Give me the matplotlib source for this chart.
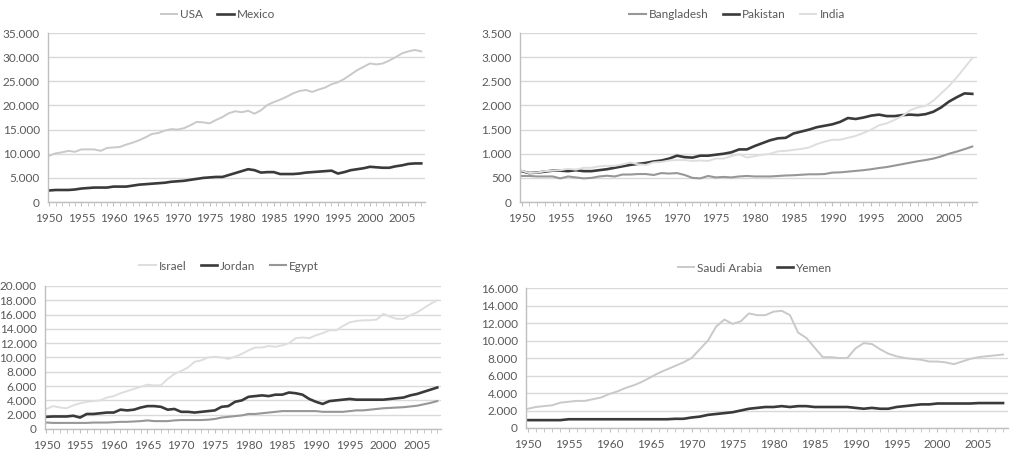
import matplotlib
matplotlib.use("Agg")
import matplotlib.pyplot as plt
from matplotlib.ticker import FuncFormatter, MultipleLocator

years = list(range(1950, 2009))

usa = [9.6, 10.1, 10.3, 10.6, 10.4, 10.9, 10.9, 10.9, 10.6, 11.2, 11.3, 11.4, 11.9, 12.3, 12.8,
       13.4, 14.1, 14.3, 14.8, 15.1, 15.0, 15.3, 15.9, 16.6, 16.5, 16.3, 17.0, 17.6, 18.4, 18.8,
       18.6, 18.9, 18.3, 19.0, 20.1, 20.7, 21.2, 21.8, 22.5, 23.0, 23.2, 22.8, 23.3, 23.7, 24.4,
       24.8, 25.5, 26.4, 27.3, 28.0, 28.7, 28.5, 28.7, 29.3, 30.0, 30.8, 31.2, 31.5, 31.2]
mexico = [2.4, 2.5, 2.5, 2.5, 2.6, 2.8, 2.9, 3.0, 3.0, 3.0, 3.2, 3.2, 3.2, 3.4, 3.6,
          3.7, 3.8, 3.9, 4.0, 4.2, 4.3, 4.4, 4.6, 4.8, 5.0, 5.1, 5.2, 5.2, 5.6, 6.0,
          6.4, 6.8, 6.6, 6.1, 6.2, 6.2, 5.8, 5.8, 5.8, 5.9, 6.1, 6.2, 6.3, 6.4, 6.5,
          5.9, 6.2, 6.6, 6.8, 7.0, 7.3, 7.2, 7.1, 7.1, 7.4, 7.6, 7.9, 8.0, 8.0]

bangladesh = [540, 540, 530, 530, 530, 490, 530, 510, 490, 500, 530, 545, 530, 570, 570,
              580, 580, 560, 600, 590, 600, 560, 500, 490, 540, 510, 520, 510, 530, 540,
              530, 530, 530, 540, 550, 555, 565, 575, 575, 580, 610, 615, 630, 645, 660,
              680, 705, 725, 755, 785, 815, 845, 870, 900, 945, 1000, 1045, 1095, 1150]
pakistan = [640, 600, 610, 630, 650, 650, 640, 660, 640, 640, 660, 680, 710, 740, 770,
            790, 810, 840, 860, 900, 960, 930, 920, 960, 960, 980, 1000, 1030, 1090, 1090,
            1160, 1220, 1280, 1320, 1330, 1420, 1460, 1500, 1550, 1580, 1610, 1660, 1740, 1720, 1750,
            1790, 1810, 1780, 1780, 1800, 1810, 1800, 1820, 1870, 1960, 2080, 2170, 2250, 2240]
india = [650, 600, 610, 640, 650, 660, 690, 670, 710, 710, 740, 750, 750, 780, 820,
         780, 770, 820, 830, 860, 870, 870, 850, 860, 850, 900, 900, 950, 990, 920,
         950, 980, 1000, 1050, 1060, 1080, 1100, 1130, 1200, 1250, 1290, 1290, 1330, 1370, 1430,
         1500, 1590, 1630, 1700, 1780, 1900, 1960, 1990, 2100, 2250, 2400, 2580, 2780, 2980]

israel = [2.8, 3.2, 3.0, 2.9, 3.3, 3.6, 3.8, 3.9, 4.0, 4.4, 4.6, 5.0, 5.3, 5.6, 5.9,
          6.2, 6.1, 6.1, 7.0, 7.7, 8.1, 8.6, 9.4, 9.6, 10.0, 10.1, 10.0, 9.8, 10.1, 10.5,
          11.0, 11.4, 11.4, 11.6, 11.5, 11.7, 12.0, 12.7, 12.8, 12.7, 13.1, 13.4, 13.8, 13.8, 14.4,
          14.9, 15.1, 15.2, 15.2, 15.3, 16.1, 15.7, 15.4, 15.4, 15.9, 16.3, 16.9, 17.5, 18.0]
jordan = [1.7, 1.75, 1.75, 1.75, 1.85, 1.6, 2.1, 2.1, 2.2, 2.3, 2.3, 2.7, 2.6, 2.7, 3.0,
          3.2, 3.2, 3.1, 2.7, 2.8, 2.4, 2.4, 2.3, 2.4, 2.5, 2.6, 3.1, 3.2, 3.8, 4.0,
          4.5, 4.6, 4.7, 4.6, 4.8, 4.8, 5.1, 5.0, 4.8, 4.2, 3.8, 3.5, 3.9, 4.0, 4.1,
          4.2, 4.1, 4.1, 4.1, 4.1, 4.1, 4.2, 4.3, 4.4, 4.7, 4.9, 5.2, 5.5, 5.8]
egypt = [0.9, 0.85, 0.85, 0.85, 0.85, 0.85, 0.85, 0.9, 0.9, 0.9, 0.95, 1.0, 1.0, 1.05, 1.1,
         1.2, 1.1, 1.1, 1.1, 1.2, 1.25, 1.25, 1.25, 1.25, 1.3, 1.4, 1.6, 1.7, 1.8, 1.9,
         2.1, 2.1, 2.2, 2.3, 2.4, 2.5, 2.5, 2.5, 2.5, 2.5, 2.5, 2.4, 2.4, 2.4, 2.4,
         2.5, 2.6, 2.6, 2.7, 2.8, 2.9, 2.95, 3.0, 3.05, 3.15, 3.25, 3.45, 3.65, 3.9]

saudi = [2.2, 2.4, 2.5, 2.6, 2.9, 3.0, 3.1, 3.1, 3.3, 3.5, 3.9, 4.2, 4.6, 4.9, 5.3,
         5.8, 6.3, 6.7, 7.1, 7.5, 8.0, 9.0, 10.0, 11.6, 12.4, 11.9, 12.2, 13.1, 12.9, 12.9,
         13.3, 13.4, 12.9, 10.9, 10.3, 9.2, 8.1, 8.1, 8.0, 8.0, 9.1, 9.7, 9.6, 9.0, 8.5,
         8.2, 8.0, 7.9, 7.8, 7.6, 7.6, 7.5, 7.3, 7.6, 7.9, 8.1, 8.2, 8.3, 8.4]
yemen = [0.9, 0.9, 0.9, 0.9, 0.9, 1.0, 1.0, 1.0, 1.0, 1.0, 1.0, 1.0, 1.0, 1.0, 1.0,
         1.0, 1.0, 1.0, 1.05, 1.05, 1.2, 1.3, 1.5, 1.6, 1.7, 1.8, 2.0, 2.2, 2.3, 2.4,
         2.4, 2.5, 2.4, 2.5, 2.5, 2.4, 2.4, 2.4, 2.4, 2.4, 2.3, 2.2, 2.3, 2.2, 2.2,
         2.4, 2.5, 2.6, 2.7, 2.7, 2.8, 2.8, 2.8, 2.8, 2.8, 2.85, 2.85, 2.85, 2.85]

LIGHT = "#c9c9c9"
VLIGHT = "#dedede"
MED = "#979797"
DARK = "#3a3a3a"
TXT = "#595959"

plt.rcParams['font.family'] = ['Lato', 'DejaVu Sans']

fig = plt.figure(figsize=(10.11, 4.5), dpi=100)

def dotfmt(v, pos):
    return f"{int(round(v)):,}".replace(",", ".")

def setup(ax, ymax, ystep):
    ax.set_xlim(1949.8, 2008.6)
    ax.set_ylim(0, ymax)
    ax.yaxis.set_major_locator(MultipleLocator(ystep))
    ax.yaxis.set_major_formatter(FuncFormatter(dotfmt))
    ax.set_xticks(list(range(1950, 2006, 5)))
    ax.xaxis.set_minor_locator(MultipleLocator(1))
    ax.grid(axis='y', color="#d9d9d9", linewidth=1.0)
    ax.set_axisbelow(True)
    for s in ['top', 'right']:
        ax.spines[s].set_visible(False)
    for s in ['left', 'bottom']:
        ax.spines[s].set_color("#bfbfbf")
        ax.spines[s].set_linewidth(1.0)
    ax.tick_params(axis='y', length=0, labelsize=8.5, labelcolor=TXT, pad=6)
    ax.tick_params(axis='x', which='major', length=3, color="#bfbfbf", labelsize=8.5,
                   labelcolor=TXT, pad=5)
    ax.tick_params(axis='x', which='minor', length=3, color="#bfbfbf")

def legend(ax, cx, cy):
    ax.legend(loc='center', bbox_to_anchor=(cx / 1011, 1 - cy / 450),
              bbox_transform=fig.transFigure, ncol=3, frameon=False,
              fontsize=8.5, handlelength=1.4, handletextpad=0.25, columnspacing=1.2,
              labelcolor=TXT)

ax1 = fig.add_axes([0.0475, 0.551, 0.373, 0.3756])
ax1.plot(years, [v * 1000 for v in usa], color=LIGHT, lw=1.4, label="USA")
ax1.plot(years, [v * 1000 for v in mexico], color=DARK, lw=1.9, label="Mexico")
setup(ax1, 35000, 5000)
legend(ax1, 218, 15)

ax2 = fig.add_axes([0.5143, 0.551, 0.452, 0.3756])
ax2.plot(years, bangladesh, color=MED, lw=1.5, label="Bangladesh")
ax2.plot(years, pakistan, color=DARK, lw=1.9, label="Pakistan")
ax2.plot(years, india, color=VLIGHT, lw=1.4, label="India")
setup(ax2, 3500, 500)
legend(ax2, 737, 15)

ax3 = fig.add_axes([0.0445, 0.0467, 0.392, 0.3178])
ax3.plot(years, [v * 1000 for v in israel], color=VLIGHT, lw=1.4, label="Israel")
ax3.plot(years, [v * 1000 for v in jordan], color=DARK, lw=1.9, label="Jordan")
ax3.plot(years, [v * 1000 for v in egypt], color=MED, lw=1.5, label="Egypt")
setup(ax3, 20000, 2000)
legend(ax3, 229, 266)

ax4 = fig.add_axes([0.5203, 0.0489, 0.4767, 0.311])
ax4.plot(years, [v * 1000 for v in saudi], color=LIGHT, lw=1.4, label="Saudi Arabia")
ax4.plot(years, [v * 1000 for v in yemen], color=DARK, lw=1.9, label="Yemen")
setup(ax4, 16000, 2000)
legend(ax4, 755, 268)

fig.savefig("out.png", dpi=100)
